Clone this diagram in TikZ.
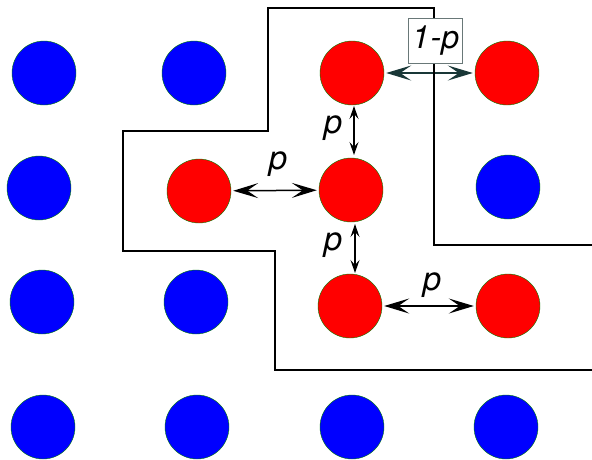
\documentclass[tikz,border=0pt]{standalone}
\usepackage{fontspec}
\setmainfont{TeX Gyre Heros}
\usetikzlibrary{arrows.meta}
\begin{document}
\begin{tikzpicture}[x=1pt,y=-1pt,
  site/.style={circle,minimum size=64pt,inner sep=0pt,draw=green!50!black,line width=0.4pt},
  bluesite/.style={site,fill=blue},
  redsite/.style={site,fill=red},
  bigarr/.style={{Stealth[length=25pt,width=15pt,inset=11pt]}-{Stealth[length=25pt,width=15pt,inset=11pt]},line width=1.5pt,shorten <=2pt,shorten >=2pt},
  smallarr/.style={{Stealth[length=13pt,width=9pt,inset=5pt]}-{Stealth[length=13pt,width=9pt,inset=5pt]},line width=1.2pt},
  lbl/.style={font=\fontsize{33}{35}\selectfont\itshape,inner sep=0pt}]
\useasboundingbox (0,0) rectangle (592,459);
% row 1
\node[bluesite] (a1) at (44,73) {};
\node[bluesite] (b1) at (194,73) {};
\node[redsite]  (c1) at (352,73) {};
\node[redsite]  (d1) at (507,73) {};
% row 2
\node[bluesite] (a2) at (39,188) {};
\node[redsite]  (b2) at (199,191) {};
\node[redsite]  (c2) at (351,190) {};
\node[bluesite] (d2) at (508,187) {};
% row 3
\node[bluesite] (a3) at (42,302) {};
\node[bluesite] (b3) at (196,302) {};
\node[redsite]  (c3) at (350,306) {};
\node[redsite]  (d3) at (508,306) {};
% row 4
\node[bluesite] (a4) at (43,427) {};
\node[bluesite] (b4) at (197,427) {};
\node[bluesite] (c4) at (352,427) {};
\node[bluesite] (d4) at (506,427) {};
% arrows
\draw[bigarr,draw={rgb,255:red,25;green,55;blue,55},fill={rgb,255:red,25;green,55;blue,55}] (c1) -- (d1);
\draw[bigarr] (b2) -- (c2);
\draw[bigarr] (c3) -- (d3);
\coordinate (v1a) at (354,106);
\coordinate (v1b) at (354,155);
\coordinate (v2a) at (355,224);
\coordinate (v2b) at (355,273);
\draw[smallarr] (v1a) -- (v1b);
\draw[smallarr] (v2a) -- (v2b);
% region boundary
\draw[line width=2pt,line join=miter] (592,245) -- (434,245) -- (434,8) -- (268,8) -- (268,131) -- (123,131) -- (123,251) -- (275,251) -- (275,370) -- (592,370);
% labels
\node[draw={rgb,255:red,105;green,120;blue,120},fill=white,line width=1pt,minimum width=54pt,minimum height=45pt,inner sep=0pt] (q) at (435.5,40.5) {\fontsize{32}{34}\selectfont\itshape 1\kern1pt-p};
\node[lbl] (p1) at (278,164) {p};
\node[lbl] (p2) at (333,128) {p};
\node[lbl] (p3) at (333,245) {p};
\node[lbl] (p4) at (432,285) {p};
\end{tikzpicture}
\end{document}
